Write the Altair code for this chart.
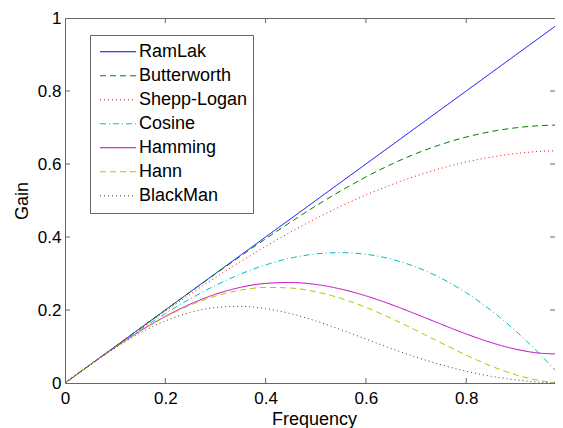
import altair as alt
import pandas as pd

# Frequency samples
freq = [0.0, 0.05, 0.10, 0.15, 0.20, 0.25, 0.30, 0.35, 0.40, 0.45, 0.50,
        0.55, 0.60, 0.65, 0.70, 0.75, 0.80, 0.85, 0.90, 0.95, 0.99]

ramlak = [0.0, 0.05, 0.10, 0.15, 0.20, 0.25, 0.30, 0.35, 0.40, 0.45, 0.50,
          0.55, 0.60, 0.65, 0.70, 0.75, 0.80, 0.85, 0.90, 0.95, 0.99]
butterworth = [0.0, 0.0500, 0.1000, 0.1500, 0.1998, 0.2495, 0.2988, 0.3474, 0.3950, 0.4410, 0.4851,
               0.5264, 0.5645, 0.5988, 0.6286, 0.6537, 0.6738, 0.6890, 0.6994, 0.7052, 0.7070]
shepp_logan = [0.0, 0.0500, 0.0996, 0.1486, 0.1967, 0.2436, 0.2890, 0.3326, 0.3742, 0.4135, 0.4502,
               0.4841, 0.5150, 0.5428, 0.5672, 0.5882, 0.6055, 0.6190, 0.6288, 0.6347, 0.6365]
cosine = [0.0, 0.0499, 0.0988, 0.1459, 0.1902, 0.2310, 0.2673, 0.2984, 0.3236, 0.3422, 0.3536,
          0.3572, 0.3527, 0.3396, 0.3178, 0.2870, 0.2472, 0.1984, 0.1408, 0.0745, 0.0156]
hamming = [0.0, 0.0497, 0.0977, 0.1425, 0.1824, 0.2163, 0.2431, 0.2621, 0.2729, 0.2754, 0.2700,
           0.2574, 0.2387, 0.2153, 0.1887, 0.1611, 0.1343, 0.1106, 0.0923, 0.0814, 0.0794]
hann = [0.0, 0.0497, 0.0976, 0.1418, 0.1809, 0.2134, 0.2382, 0.2545, 0.2618, 0.2602, 0.2500,
        0.2320, 0.2073, 0.1775, 0.1443, 0.1098, 0.0764, 0.0463, 0.0220, 0.0059, 0.0002]
blackman = [0.0, 0.0495, 0.0960, 0.1369, 0.1699, 0.1934, 0.2068, 0.2100, 0.2039, 0.1900, 0.1700,
            0.1461, 0.1205, 0.0949, 0.0710, 0.0498, 0.0322, 0.0183, 0.0083, 0.0021, 0.0001]

names = ["RamLak", "Butterworth", "Shepp-Logan", "Cosine", "Hamming", "Hann", "BlackMan"]
series = [ramlak, butterworth, shepp_logan, cosine, hamming, hann, blackman]
colors = ["#0000ff", "#008000", "#ff0000", "#00bfbf", "#bf00bf", "#bfbf00", "#404040"]
dashes = [[1, 0], [6, 4], [1, 3], [6, 3, 1, 3], [1, 0], [6, 4], [1, 3]]

x_ticks = [0.2, 0.4, 0.6, 0.8]
y_ticks = [0.2, 0.4, 0.6, 0.8]

rows = []
for name, vals in zip(names, series):
    for f, g in zip(freq, vals):
        rows.append({"freq": f, "gain": g, "filter": name})
df = pd.DataFrame(rows)

W, H = 490, 365
FONT = "Liberation Sans"
AX = "#666666"

xscale = alt.Scale(domain=[0, 0.977], nice=False, zero=False)
yscale = alt.Scale(domain=[0, 1], nice=False)

lines = alt.Chart(df).mark_line(strokeWidth=1, interpolate="monotone", clip=True).encode(
    x=alt.X("freq:Q", scale=xscale, title="Frequency",
            axis=alt.Axis(values=[0, 0.2, 0.4, 0.6, 0.8], format="~g", ticks=False, domain=False,
                          grid=False, labelPadding=7, labelFlush=False, titleY=41,
                          titleX=(563 - 65) / 2, titleBaseline="alphabetic")),
    y=alt.Y("gain:Q", scale=yscale, title="Gain",
            axis=alt.Axis(values=[0, 0.2, 0.4, 0.6, 0.8, 1], format="~g", ticks=False, domain=False,
                          grid=False, labelPadding=4, labelFlush=False, titleX=-38,
                          titleBaseline="alphabetic")),
    color=alt.Color("filter:N", scale=alt.Scale(domain=names, range=colors),
                    sort=names, title=None),
    strokeDash=alt.StrokeDash("filter:N", scale=alt.Scale(domain=names, range=dashes),
                              sort=names, title=None),
)

tick_df_x = pd.DataFrame({"freq": x_ticks})
tick_df_y = pd.DataFrame({"gain": y_ticks})

bottom_ticks = alt.Chart(tick_df_x).mark_rule(color=AX, strokeWidth=1).encode(
    x=alt.X("freq:Q", scale=xscale), y=alt.value(H), y2=alt.value(H - 5))
top_ticks = alt.Chart(tick_df_x).mark_rule(color=AX, strokeWidth=1).encode(
    x=alt.X("freq:Q", scale=xscale), y=alt.value(0), y2=alt.value(5))
left_ticks = alt.Chart(tick_df_y).mark_rule(color=AX, strokeWidth=1).encode(
    y=alt.Y("gain:Q", scale=yscale), x=alt.value(0), x2=alt.value(5))
right_ticks = alt.Chart(tick_df_y).mark_rule(color=AX, strokeWidth=1).encode(
    y=alt.Y("gain:Q", scale=yscale), x=alt.value(W - 5), x2=alt.value(W))

chart = alt.layer(lines, bottom_ticks, top_ticks, left_ticks, right_ticks).properties(
    width=W, height=H,
    autosize=alt.AutoSizeParams(type="none"),
    padding={"left": 57, "top": 10, "right": 0, "bottom": 45},
    background="white",
).configure_view(
    stroke=AX, strokeWidth=1
).configure_axis(
    labelFont=FONT, titleFont=FONT, labelFontSize=17, titleFontSize=18,
    labelColor="#000000", titleColor="#000000", titleFontWeight="normal",
).configure_legend(
    orient="none", legendX=25, legendY=17,
    labelFont=FONT, labelFontSize=18, labelColor="#000000", labelLimit=300,
    symbolType="M-1,0L5,0", symbolSize=144, symbolStrokeWidth=1,
    symbolOffset=2, labelOffset=24,
    clipHeight=23.5, rowPadding=0, padding=5,
    strokeColor=AX, fillColor="white", cornerRadius=0,
)

chart.save("out.html", embed_options={"renderer": "svg", "actions": False})
